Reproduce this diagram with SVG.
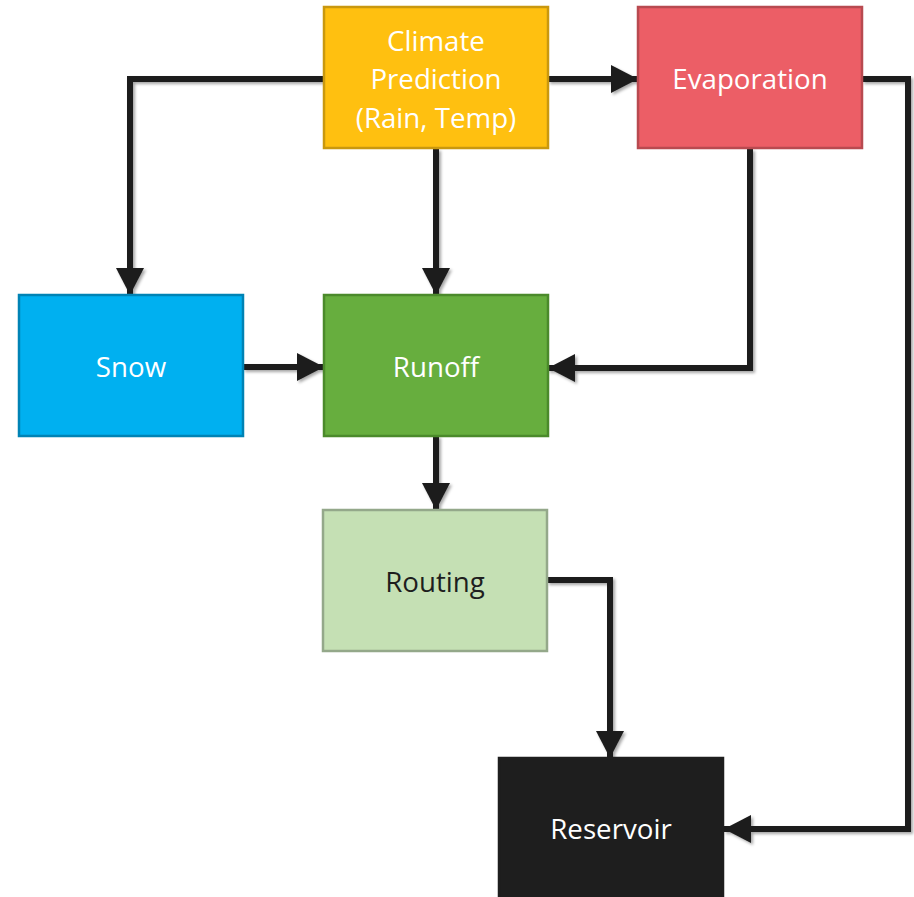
<svg xmlns="http://www.w3.org/2000/svg" width="914" height="897" viewBox="0 0 914 897">
<style>
.box{stroke-width:2.5}
.lbl{font-family:"Open Sans","Noto Sans",sans-serif;font-size:27.7px;text-anchor:middle;fill:#ffffff}
.dark{fill:#1e1e1e}
.conn{fill:none;stroke:#1e1e1e;stroke-width:6;stroke-linejoin:miter;marker-end:url(#ah)}
</style>
<defs>
<marker id="ah" markerUnits="userSpaceOnUse" markerWidth="28" markerHeight="28" viewBox="0 0 28 28" refX="27" refY="14" orient="auto">
<path d="M0,0 L27,14 L0,28 Z" fill="#1e1e1e"/>
</marker>
<filter id="sh" x="-20%" y="-20%" width="140%" height="140%">
<feDropShadow dx="2" dy="2" stdDeviation="1.8" flood-color="#000" flood-opacity="0.35"/>
</filter>
</defs>
<rect width="914" height="897" fill="#ffffff"/>
<g id="connectors" filter="url(#sh)">
<path class="conn" d="M324,79 H130 V295"/>
<path class="conn" d="M436,149 V295"/>
<path class="conn" d="M548,79 H638"/>
<path class="conn" d="M750,149 V368 H548"/>
<path class="conn" d="M862,79 H908 V829 H724"/>
<path class="conn" d="M243,367 H324"/>
<path class="conn" d="M436,436 V510"/>
<path class="conn" d="M547,580 H610 V758"/>
</g>
<g id="climate">
<rect class="box" x="324" y="7" width="224" height="141" fill="#FFC010" stroke="#C9980F"/>
<text class="lbl" x="436" y="51">Climate</text>
<text class="lbl" x="436" y="89">Prediction</text>
<text class="lbl" x="436" y="128">(Rain, Temp)</text>
</g>
<g id="evaporation">
<rect class="box" x="638" y="7" width="224" height="141" fill="#EC5E66" stroke="#B84A50"/>
<text class="lbl" x="750" y="89">Evaporation</text>
</g>
<g id="snow">
<rect class="box" x="19" y="295" width="224" height="141" fill="#00B0F0" stroke="#0083B5"/>
<text class="lbl" x="131" y="377">Snow</text>
</g>
<g id="runoff">
<rect class="box" x="324" y="295" width="224" height="141" fill="#67AE3E" stroke="#4B8A2B"/>
<text class="lbl" x="436" y="377">Runoff</text>
</g>
<g id="routing">
<rect class="box" x="323" y="510" width="224" height="141" fill="#C5E0B4" stroke="#94A88A"/>
<text class="lbl dark" x="435" y="592">Routing</text>
</g>
<g id="reservoir">
<rect class="box" x="499" y="758" width="224" height="145" fill="#1E1E1E" stroke="#1E1E1E"/>
<text class="lbl" x="611" y="839">Reservoir</text>
</g>
</svg>
